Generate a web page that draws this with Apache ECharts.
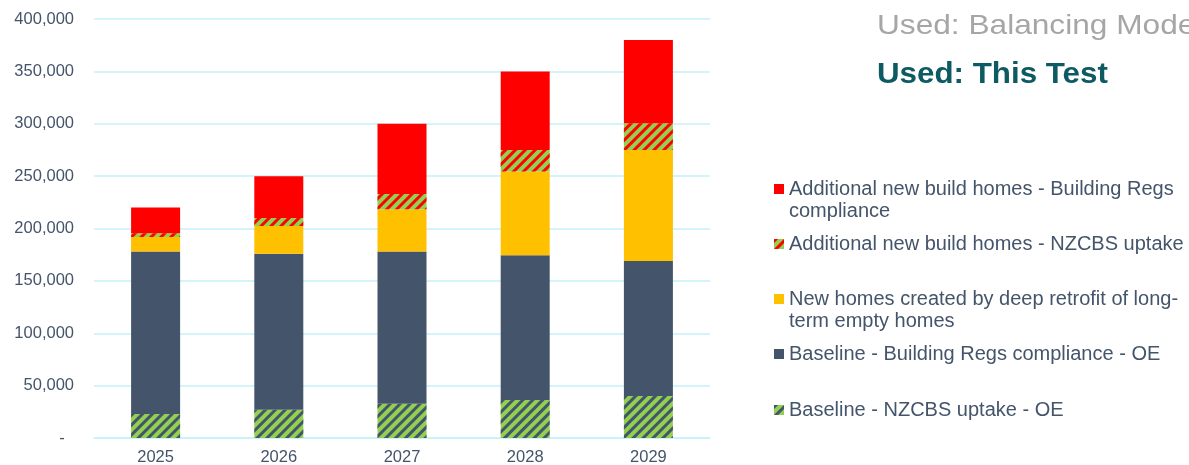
<!DOCTYPE html>
<html>
<head>
<meta charset="utf-8">
<script src="https://cdn.jsdelivr.net/npm/echarts@6/dist/echarts.min.js"></script>
<style>
  html, body { margin: 0; padding: 0; background: #fff; }
  #chart { width: 1189px; height: 465px; }
</style>
</head>
<body>
<div id="chart"></div>
<script>
const years = ["2025", "2026", "2027", "2028", "2029"];

// stacked bottom -> top
const baselineNzcbs = [23000, 27000, 32700, 36300, 40000];
const baselineRegs = [155000, 149000, 145300, 138100, 129000];
const retrofitEmpty = [14000, 26500, 40300, 80000, 106000];
const newBuildNzcbs = [3500, 7500, 14700, 20600, 25500];
const newBuildRegs = [24500, 40000, 67000, 75000, 79500];

const seriesNames = [
  "Baseline - NZCBS uptake - OE",
  "Baseline - Building Regs compliance - OE",
  "New homes created by deep retrofit of long-term empty homes",
  "Additional new build homes - NZCBS uptake",
  "Additional new build homes - Building Regs compliance",
];
// how the legend shows them; a leading blank line keeps the marker on the first line
const legendLabels = [
  "Baseline - NZCBS uptake - OE",
  "Baseline - Building Regs compliance - OE",
  "\nNew homes created by deep retrofit of long-\nterm empty homes",
  "Additional new build homes - NZCBS uptake",
  "\nAdditional new build homes - Building Regs\ncompliance",
];

const FONT = "Liberation Sans";
const TXT = "#44546A";
const GRID = "#C6F1FA";

const chart = echarts.init(document.getElementById("chart"));

const stripes = (color) => ({
  symbol: "rect",
  symbolSize: 1,
  dashArrayX: [1, 0],
  dashArrayY: [3, 4],
  rotation: -Math.PI / 4,
  color: color,
});

// one legend per item so the uneven spacing of the original can be kept
const legendTops = [399, 343, 266, 233, 156];
const legends = seriesNames.map((name, i) => ({
  data: [name],
  left: 774,
  top: legendTops[i],
  orient: "vertical",
  padding: 0,
  itemWidth: 10,
  itemHeight: 10,
  icon: "rect",
  selectedMode: false,
  formatter: () => legendLabels[i],
  textStyle: {
    fontFamily: FONT,
    fontSize: 20,
    lineHeight: 22,
    color: TXT,
  },
}));

const option = {
  animation: false,
  backgroundColor: "#fff",
  textStyle: { fontFamily: FONT },
  graphic: [
    {
      type: "text",
      x: 877,
      y: 26,
      scaleX: 1.13,
      style: {
        text: "Used: Balancing Mode",
        font: "28px '" + FONT + "'",
        fill: "#A6A6A6",
        verticalAlign: "middle",
      },
    },
    {
      type: "text",
      x: 877,
      y: 75,
      scaleX: 1.08,
      style: {
        text: "Used: This Test",
        font: "bold 29px '" + FONT + "'",
        fill: "#0D5A62",
        verticalAlign: "middle",
      },
    },
  ],
  legend: legends,
  grid: { left: 94, right: 479, top: 19, bottom: 27, outerBoundsMode: "none" },
  xAxis: {
    type: "category",
    data: years,
    axisLine: { lineStyle: { color: GRID, width: 1.5 } },
    axisTick: { show: false },
    axisLabel: { fontSize: 16.5, color: TXT, margin: 11 },
  },
  yAxis: {
    type: "value",
    min: 0,
    max: 400000,
    interval: 50000,
    axisLine: { show: false },
    axisTick: { show: false },
    splitLine: { lineStyle: { color: GRID, width: 1.5 } },
    axisLabel: {
      fontSize: 16.5,
      color: TXT,
      margin: 20,
      formatter: (v) => (v === 0 ? "-  " : v.toLocaleString("en-US")),
    },
  },
  series: [
    {
      name: seriesNames[0],
      type: "bar",
      stack: "total",
      barWidth: 49,
      data: baselineNzcbs,
      itemStyle: { color: "#92D050", decal: stripes("#44546A") },
    },
    {
      name: seriesNames[1],
      type: "bar",
      stack: "total",
      data: baselineRegs,
      itemStyle: { color: "#44546A" },
    },
    {
      name: seriesNames[2],
      type: "bar",
      stack: "total",
      data: retrofitEmpty,
      itemStyle: { color: "#FFC000" },
    },
    {
      name: seriesNames[3],
      type: "bar",
      stack: "total",
      data: newBuildNzcbs,
      itemStyle: { color: "#92D050", decal: stripes("#FF0000") },
    },
    {
      name: seriesNames[4],
      type: "bar",
      stack: "total",
      data: newBuildRegs,
      itemStyle: { color: "#FF0000" },
    },
  ],
};

chart.setOption(option);
</script>
</body>
</html>
